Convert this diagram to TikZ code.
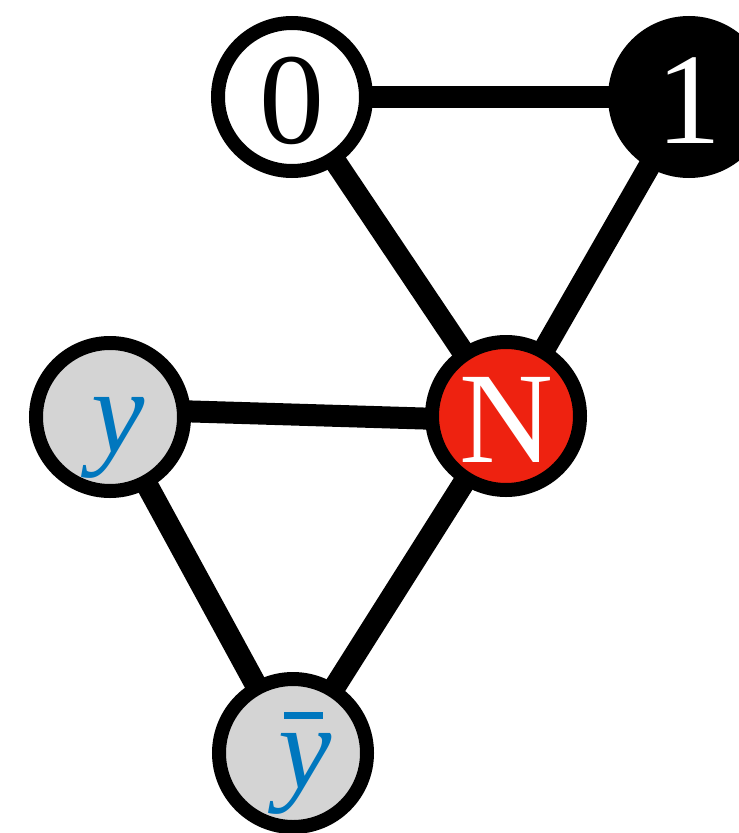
\documentclass[tikz,border=0pt]{standalone}
\usepackage{fontspec}
\setmainfont{Liberation Serif}
\usetikzlibrary{backgrounds}
\definecolor{nred}{RGB}{238,34,16}
\definecolor{ngray}{RGB}{212,212,212}
\definecolor{nblue}{RGB}{0,119,190}
\tikzset{
  vtx/.style={circle, draw=black, line width=14bp, minimum size=148bp, inner sep=0pt,
    font=\fontsize{130bp}{130bp}\selectfont, text height=92bp, text depth=0bp},
  vwhite/.style={vtx, fill=white, text=black},
  vblack/.style={vtx, fill=black, text=white},
  vred/.style={vtx, fill=nred, text=white},
  vgray/.style={vtx, fill=ngray, text=nblue, font=\fontsize{120bp}{120bp}\selectfont\itshape, text height=71bp},
  link/.style={line width=22bp, black}
}
\begin{document}
\begin{tikzpicture}[x=1bp,y=-1bp]
\useasboundingbox (0,0) rectangle (739,833);
\clip (0,0) rectangle (739,833);
\node[vwhite] (n0) at (292,97) {0};
\node[vblack] (n1) at (689,97) {1};
\node[vred] (nN) at (506,416) {N};
\node[vgray] (ny) at (110,417) {\kern8bp y\kern-8bp};
\node[vgray] (nyb) at (293,753) {\kern12bp\rlap{\kern6bp\rule[70bp]{39bp}{7bp}}y\kern-12bp};
\begin{pgfonlayer}{background}
\draw[link] (n0.center) -- (n1.center);
\draw[link] (n0.center) -- (nN.center);
\draw[link] (n1.center) -- (nN.center);
\draw[link] ([yshift=8bp]ny.center) -- ([yshift=-5bp]nN.center);
\draw[link] (ny.center) -- (nyb.center);
\draw[link] (nyb.center) -- (nN.center);
\end{pgfonlayer}
\end{tikzpicture}
\end{document}
